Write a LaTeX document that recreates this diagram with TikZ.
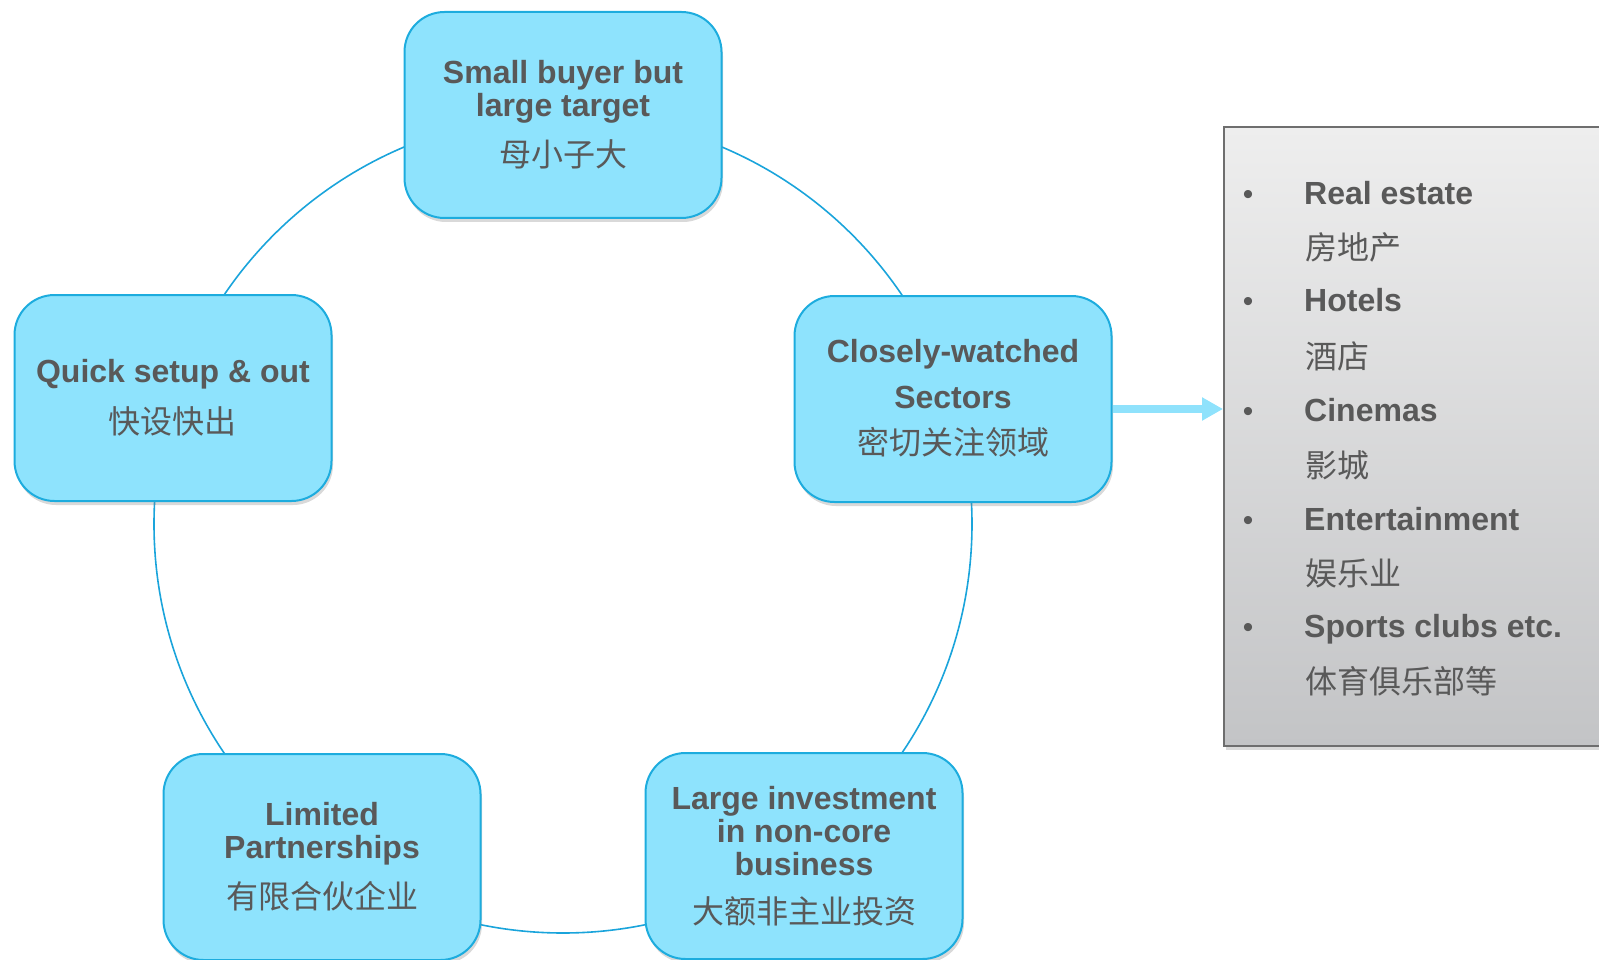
\documentclass[tikz,border=0pt]{standalone}
\usepackage{fontspec}
\setmainfont{Liberation Sans}
\newfontfamily\cjk{Noto Sans CJK SC}
\usetikzlibrary{shadows,arrows.meta}
\definecolor{boxfill}{HTML}{8EE3FD}
\definecolor{boxline}{HTML}{1DACDE}
\definecolor{ringc}{HTML}{1AA4DB}
\definecolor{txt}{HTML}{595959}
\definecolor{grtop}{HTML}{EEEEEE}
\definecolor{grbot}{HTML}{C3C4C6}
\definecolor{grline}{HTML}{6E6E6E}
\definecolor{arrowc}{HTML}{8FE2FC}
\begin{document}
\begin{tikzpicture}[x=1pt,y=-1pt,
  keybox/.style={draw=boxline, line width=2pt, fill=boxfill, rounded corners=40pt,
    minimum width=317pt, minimum height=206pt, inner sep=0pt, align=center,
    text=txt, font=\fontsize{32}{33}\selectfont\bfseries,
    drop shadow={opacity=0.3, shadow xshift=1.5pt, shadow yshift=-4pt}},
  graybox/.style={draw=grline, line width=2pt, top color=grtop, bottom color=grbot,
    inner sep=0pt, anchor=north west, minimum width=430pt, minimum height=619pt,
    drop shadow={opacity=0.3, shadow xshift=2pt, shadow yshift=-4pt}},
  itemen/.style={anchor=base west, inner sep=0pt, text=txt, font=\fontsize{32}{33}\selectfont\bfseries},
  itemzh/.style={anchor=base west, inner sep=0pt, text=txt, font=\fontsize{32}{33}\selectfont\cjk},
  bul/.style={anchor=base, inner sep=0pt, text=txt, font=\fontsize{30}{33}\selectfont},
  ring/.style={draw=ringc, line width=1.6pt},
  flow/.style={draw=arrowc, line width=8pt, -{Triangle[length=21pt,width=22pt]}}
]
\useasboundingbox (0,0) rectangle (1599,960);
\clip (0,0) rectangle (1599,960);

% ring through the five boxes
\coordinate (ctr) at (563,524);
\draw[ring] (ctr) circle[radius=409];

% gray list box
\node[graybox] (sectors) at (1223,126) {};

\node[bul] (b1) at (1248,205) {•};
\node[itemen] (i1) at (1304,205) {Real estate};
\node[itemzh] (z1) at (1305,260) {房地产};
\node[bul] (b2) at (1248,312) {•};
\node[itemen] (i2) at (1304,312) {Hotels};
\node[itemzh] (z2) at (1305,368) {酒店};
\node[bul] (b3) at (1248,421) {•};
\node[itemen] (i3) at (1304,421) {Cinemas};
\node[itemzh] (z3) at (1305,477) {影城};
\node[bul] (b4) at (1248,530) {•};
\node[itemen] (i4) at (1304,530) {Entertainment};
\node[itemzh] (z4) at (1305,585) {娱乐业};
\node[bul] (b5) at (1248,637) {•};
\node[itemen] (i5) at (1304,637) {Sports clubs etc.};
\node[itemzh] (z5) at (1305,693) {体育俱乐部等};

% boxes
\node[keybox] (top) at (563,115) {Small buyer but\\large target\\[15pt]{\cjk\mdseries 母小子大}};
\node[keybox] (quick) at (173,398) {Quick setup \& out\\[16pt]{\cjk\mdseries 快设快出}};
\node[keybox, font=\fontsize{32}{46}\selectfont\bfseries] (closely) at (953,399) {Closely-watched\\Sectors\\{\cjk\mdseries 密切关注领域}\\[-42pt]\mbox{}};
\node[keybox] (limited) at (322,857) {Limited\\Partnerships\\[15pt]{\cjk\mdseries 有限合伙企业}};
\node[keybox] (large) at (804,856) {Large investment\\in non-core\\business\\[15pt]{\cjk\mdseries 大额非主业投资}};

% arrow to the list
\coordinate (arrS) at ([yshift=-10pt]closely.east);
\draw[flow] (arrS) -- (arrS -| sectors.west);
\end{tikzpicture}
\end{document}
